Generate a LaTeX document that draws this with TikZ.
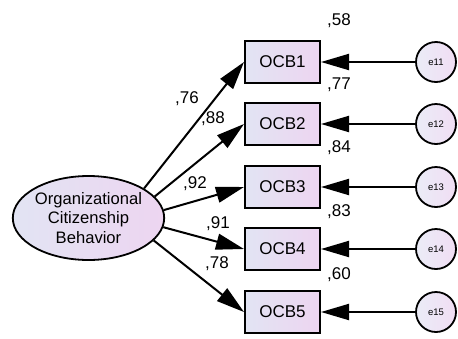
\documentclass[tikz,border=0pt]{standalone}
\usepackage{fontspec}
\setmainfont{Liberation Sans}
\usetikzlibrary{arrows.meta,shapes.geometric}
\definecolor{shadeL}{RGB}{226,228,243}
\definecolor{shadeR}{RGB}{237,213,241}

\begin{document}
\begin{tikzpicture}[x=1pt,y=-1pt,
  latent/.style={ellipse, draw, line width=1.8pt, minimum width=151pt, minimum height=84pt,
    inner sep=0pt, left color=shadeL, right color=shadeR, align=center,
    font=\fontsize{16.6}{19.2}\selectfont},
  observed/.style={rectangle, draw, line width=2pt, minimum width=75pt, minimum height=42pt,
    inner sep=0pt, left color=shadeL, right color=shadeR, font=\fontsize{17}{20}\selectfont},
  errterm/.style={circle, draw, line width=1.8pt, minimum size=40pt, inner sep=0pt,
    left color=shadeL!70!white, right color=shadeR!80!white, font=\fontsize{9.5}{11}\selectfont},
  loading/.style={draw=black, -{Triangle[length=28pt,width=16pt]}, line width=2pt},
  coef/.style={anchor=base west, inner sep=0pt, font=\fontsize{17}{20}\selectfont}
]
\useasboundingbox (0,0) rectangle (458,338);

% latent factor
\node[latent] (F) at (88.5,218) {Organizational\\Citizenship\\Behavior};

% indicators and their error terms
\foreach \i/\y in {1/62,2/124,3/187,4/249,5/312}{
  \node[observed] (OCB\i) at (282.5,\y) {OCB\i};
  \node[errterm] (e\i) at (436,\y) {e1\i};
}

% error paths
\foreach \i in {1,...,5}{
  \path[loading] (e\i.west) -- (OCB\i.east);
}

% factor loadings
\path[loading] (F.28)  -- (OCB1.west);
\path[loading] (F.18)  -- (OCB2.west);
\path[loading] (F.6)   -- (OCB3.west);
\path[loading] (F.-7)  -- (OCB4.west);
\path[loading] (F.-19) -- (OCB5.west);

\node[coef] (l1) at (175,103.5) {,76};
\node[coef] (l2) at (201,123.5) {,88};
\node[coef] (l3) at (183,188)   {,92};
\node[coef] (l4) at (206,228)   {,91};
\node[coef] (l5) at (205,268)   {,78};

% squared multiple correlations
\node[coef] (r1) at (327,25)  {,58};
\node[coef] (r2) at (327,89)  {,77};
\node[coef] (r3) at (327,152) {,84};
\node[coef] (r4) at (327,216) {,83};
\node[coef] (r5) at (327,279) {,60};
\end{tikzpicture}
\end{document}
